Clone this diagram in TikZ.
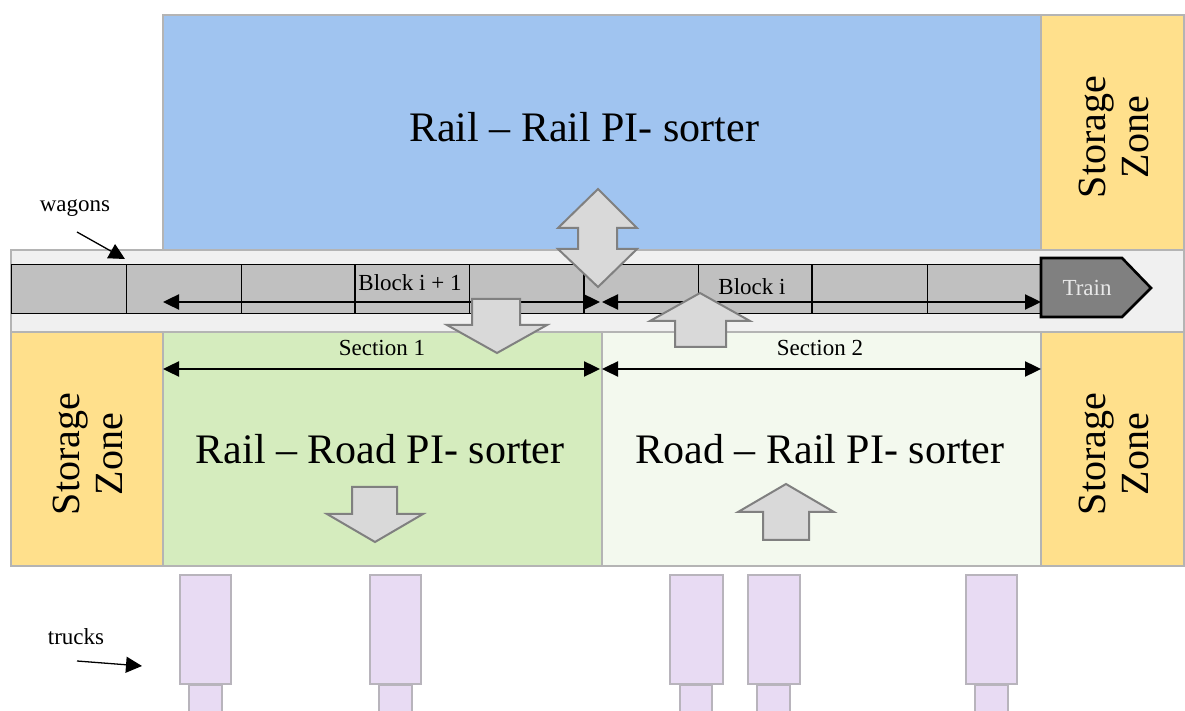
\documentclass[tikz,border=0pt]{standalone}
\usepackage{fontspec}
\setmainfont{Liberation Serif}
\usetikzlibrary{arrows.meta}
\definecolor{railblue}{HTML}{A0C4F0}
\definecolor{storeyel}{HTML}{FFE08C}
\definecolor{rrgreen}{HTML}{D5ECBE}
\definecolor{rdgreen}{HTML}{F3F9EE}
\definecolor{bandgray}{HTML}{F0F0F0}
\definecolor{wagongray}{HTML}{C0C0C0}
\definecolor{traingray}{HTML}{808080}
\definecolor{trainfont}{HTML}{E8E8E8}
\definecolor{boxline}{HTML}{B4B4B4}
\definecolor{arrowfill}{HTML}{D9D9D9}
\definecolor{arrowline}{HTML}{808080}
\definecolor{truckfill}{HTML}{E8DBF3}
\definecolor{truckline}{HTML}{B8B4BC}
\tikzset{
  zone/.style={draw=boxline, line width=0.6pt},
  wagonbox/.style={draw=black, fill=wagongray, line width=0.5pt},
  heavydiv/.style={draw=black, line width=0.9pt},
  trainshape/.style={draw=black, fill=traingray, line width=1.3pt, line join=miter},
  dimline/.style={{Triangle[length=8pt,width=7.5pt]}-{Triangle[length=8pt,width=7.5pt]}, line width=1.2pt},
  pointer/.style={-{Triangle[length=8pt,width=8pt]}, line width=0.65pt},
  bigarrow/.style={draw=arrowline, fill=arrowfill, line width=1pt, line join=miter},
  truckbox/.style={draw=truckline, fill=truckfill, line width=0.8pt},
  bigtext/.style={font=\fontsize{21}{25}\selectfont, inner sep=0pt},
  storetext/.style={font=\fontsize{20}{21.5}\selectfont, align=center, rotate=90, inner sep=0pt},
  smalltext/.style={font=\fontsize{11.5}{13}\selectfont, inner sep=0pt},
}
\begin{document}
\begin{tikzpicture}[x=0.5pt,y=-0.5pt]
\useasboundingbox (0,0) rectangle (1185,711);
\clip (0,0) rectangle (1185,711);
\fill[white] (0,0) rectangle (1185,711);

% zones
\draw[zone,fill=railblue] (163,15) rectangle (1041,250);
\draw[zone,fill=storeyel] (1041,15) rectangle (1184,250);
\draw[zone,fill=storeyel] (11,332) rectangle (163,566);
\draw[zone,fill=rrgreen] (163,332) rectangle (602,566);
\draw[zone,fill=rdgreen] (602,332) rectangle (1041,566);
\draw[zone,fill=storeyel] (1041,332) rectangle (1184,566);
\draw[zone,fill=bandgray] (11,250) rectangle (1184,332);

% wagons
\foreach \a/\b in {11/126,126/241,241/355,355/469,469/584,584/698,698/812,812/927,927/1041}
  \draw[wagonbox] (\a,265) rectangle (\b,314);
\foreach \a in {355,584,812}
  \draw[heavydiv] (\a,265) -- (\a,314);

% train
\draw[trainshape] (1041,258) -- (1122,258) -- (1151,288) -- (1122,317) -- (1041,317) -- cycle;
\node[smalltext, text=trainfont] (train) at (1087,288) {Train};

% block and section dimension lines
\coordinate (b1L) at (163,302); \coordinate (b1R) at (600,302);
\coordinate (b2L) at (602,302); \coordinate (b2R) at (1041,302);
\coordinate (s1L) at (163,369); \coordinate (s1R) at (600,369);
\coordinate (s2L) at (602,369); \coordinate (s2R) at (1041,369);
\draw[dimline] (b1L) -- (b1R);
\draw[dimline] (b2L) -- (b2R);
\draw[dimline] (s1L) -- (s1R);
\draw[dimline] (s2L) -- (s2R);
\node[smalltext] (blockip) at (410,283) {Block i + 1};
\node[smalltext] (blocki) at (752,287) {Block i};
\node[smalltext] (sec1) at (382,348) {Section 1};
\node[smalltext] (sec2) at (820,348) {Section 2};

% big arrows
\draw[bigarrow] (598,189) -- (637,228) -- (617,228) -- (617,249) -- (637,249) -- (598,287) -- (558,249) -- (578,249) -- (578,228) -- (558,228) -- cycle;
\draw[bigarrow] (472,299) -- (520,299) -- (520,325) -- (547,325) -- (497,353) -- (447,325) -- (472,325) -- cycle;
\draw[bigarrow] (700,293) -- (750,321) -- (726,321) -- (726,347) -- (675,347) -- (675,321) -- (650,321) -- cycle;
\draw[bigarrow] (352,487) -- (397,487) -- (397,514) -- (423,514) -- (375,542) -- (327,514) -- (352,514) -- cycle;
\draw[bigarrow] (786,484) -- (834,512) -- (809,512) -- (809,540) -- (763,540) -- (763,512) -- (738,512) -- cycle;

% big texts
\node[bigtext] (rr) at (584,127) {Rail – Rail PI- sorter};
\node[bigtext] (rrd) at (380,449) {Rail – Road PI- sorter};
\node[bigtext] (rdr) at (820,449) {Road – Rail PI- sorter};
\node[storetext] (st1) at (1114,137) {Storage\\Zone};
\node[storetext] (st2) at (88,454) {Storage\\Zone};
\node[storetext] (st3) at (1114,454) {Storage\\Zone};

% trucks
\foreach \a/\b/\c/\d in {180/231/189/222, 370/421/379/412, 670/723/680/712, 748/800/757/790, 966/1017/975/1008} {
  \draw[truckbox] (\a,575) rectangle (\b,684);
  \draw[truckbox] (\c,685) rectangle (\d,725);
}

% labels with pointers
\node[smalltext] (wagons) at (75,208) {wagons};
\coordinate (wagonsfrom) at (77,232);
\coordinate (wagonsto) at (125,259);
\draw[pointer] (wagonsfrom) -- (wagonsto);
\node[smalltext] (trucks) at (76,637) {trucks};
\coordinate (trucksfrom) at (77,661);
\coordinate (trucksto) at (142,666);
\draw[pointer] (trucksfrom) -- (trucksto);
\end{tikzpicture}
\end{document}
